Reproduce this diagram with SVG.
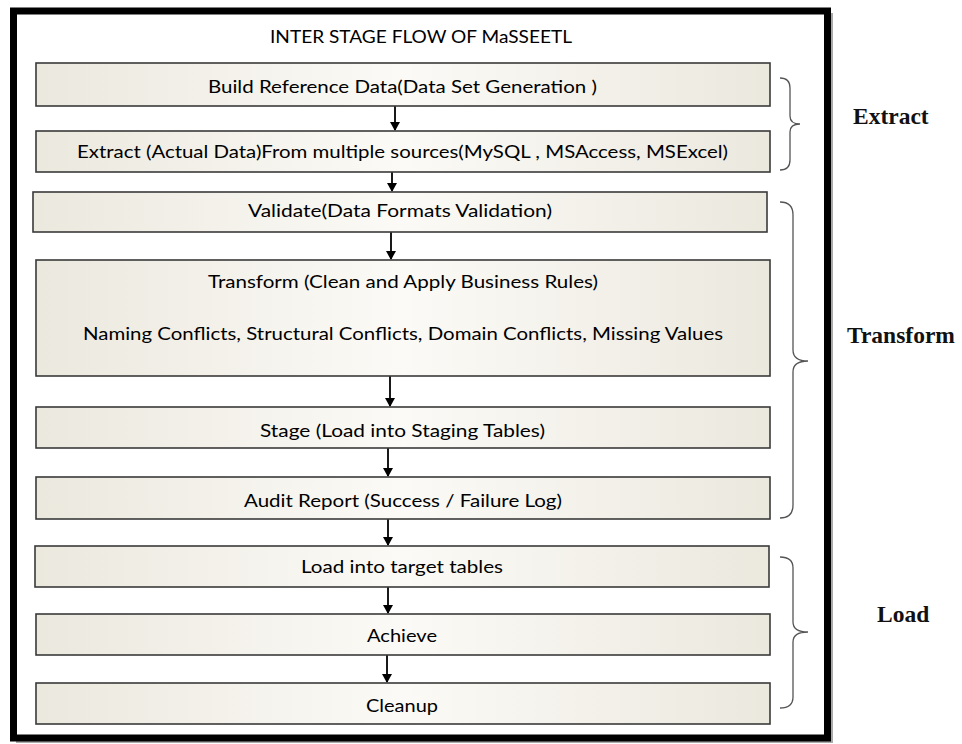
<svg xmlns="http://www.w3.org/2000/svg" width="962" height="744" viewBox="0 0 962 744">
<style>
.box{fill:url(#g);stroke:#3a3a3a;stroke-width:1.6}
.t{font-family:Lato,"Open Sans","Liberation Sans",sans-serif;font-size:18px;fill:#000;text-anchor:middle}
.lbl{font-family:"Liberation Serif","Times New Roman",serif;font-weight:bold;font-size:23.5px;fill:#111}
.arr{stroke:#000;stroke-width:1.8;fill:none;marker-end:url(#ah)}
.brace{fill:none;stroke:#555;stroke-width:1.3}
</style>
<defs>
<linearGradient id="g" x1="0" y1="0" x2="1" y2="0">
<stop offset="0" stop-color="#ebe8de"/>
<stop offset="0.5" stop-color="#fbfaf6"/>
<stop offset="1" stop-color="#ebe8de"/>
</linearGradient>
<marker id="ah" markerWidth="10" markerHeight="10" refX="8" refY="5" orient="auto" markerUnits="userSpaceOnUse">
<path d="M0,0 L9,5 L0,10 Z" fill="#000"/>
</marker>
</defs>
<rect width="962" height="744" fill="#fff"/>
<rect x="16" y="13" width="817" height="730" fill="#aaa"/>
<rect x="13.5" y="11" width="814" height="727" fill="#fff" stroke="#000" stroke-width="7"/>
<text class="t" x="421" y="43" textLength="302" lengthAdjust="spacingAndGlyphs">INTER STAGE FLOW OF MaSSEETL</text>

<g id="connectors">
<line class="arr" x1="395" y1="106" x2="395" y2="130"/>
<line class="arr" x1="392" y1="172" x2="392" y2="191"/>
<line class="arr" x1="391" y1="232" x2="391" y2="259"/>
<line class="arr" x1="390" y1="376" x2="390" y2="406"/>
<line class="arr" x1="388" y1="448" x2="388" y2="476"/>
<line class="arr" x1="388" y1="519" x2="388" y2="545"/>
<line class="arr" x1="388" y1="587" x2="388" y2="613"/>
<line class="arr" x1="387" y1="655" x2="387" y2="682"/>
</g>

<g id="n1"><rect class="box" x="36" y="63" width="734" height="43"/><text class="t" x="402.5" y="93" textLength="389" lengthAdjust="spacingAndGlyphs">Build Reference Data(Data Set Generation )</text></g>
<g id="n2"><rect class="box" x="36" y="131" width="734" height="41"/><text class="t" x="402.5" y="158" textLength="651" lengthAdjust="spacingAndGlyphs">Extract (Actual Data)From multiple sources(MySQL , MSAccess, MSExcel)</text></g>
<g id="n3"><rect class="box" x="33" y="192" width="734" height="40"/><text class="t" x="400" y="217" textLength="304" lengthAdjust="spacingAndGlyphs">Validate(Data Formats Validation)</text></g>
<g id="n4"><rect class="box" x="36" y="260" width="734" height="116"/><text class="t" x="403" y="288" textLength="390" lengthAdjust="spacingAndGlyphs">Transform (Clean and Apply Business Rules)</text><text class="t" x="403" y="340" textLength="640" lengthAdjust="spacingAndGlyphs">Naming Conflicts, Structural Conflicts, Domain Conflicts, Missing Values</text></g>
<g id="n5"><rect class="box" x="36" y="407" width="734" height="41"/><text class="t" x="402.5" y="437" textLength="285" lengthAdjust="spacingAndGlyphs">Stage (Load into Staging Tables)</text></g>
<g id="n6"><rect class="box" x="36" y="477" width="734" height="42"/><text class="t" x="403" y="507" textLength="318" lengthAdjust="spacingAndGlyphs">Audit Report (Success / Failure Log)</text></g>
<g id="n7"><rect class="box" x="35" y="546" width="734" height="41"/><text class="t" x="402" y="573" textLength="202" lengthAdjust="spacingAndGlyphs">Load into target tables</text></g>
<g id="n8"><rect class="box" x="36" y="614" width="734" height="41"/><text class="t" x="402" y="642" textLength="70" lengthAdjust="spacingAndGlyphs">Achieve</text></g>
<g id="n9"><rect class="box" x="36" y="683" width="734" height="41"/><text class="t" x="402" y="712" textLength="72" lengthAdjust="spacingAndGlyphs">Cleanup</text></g>

<g id="extract">
<path class="brace" d="M780,78 Q790,78 790,88 L790,116 Q790,124 800,124 Q790,124 790,132 L790,160 Q790,170 780,170"/>
<text class="lbl" x="853" y="124">Extract</text>
</g>
<g id="transform">
<path class="brace" d="M780,202 Q793,202 793,215 L793,350 Q793,361 808,361 Q793,361 793,372 L793,505 Q793,518 780,518"/>
<text class="lbl" x="847" y="343">Transform</text>
</g>
<g id="load">
<path class="brace" d="M780,557 Q793,557 793,568 L793,622 Q793,632 808,632 Q793,632 793,642 L793,697 Q793,708 780,708"/>
<text class="lbl" x="877" y="622">Load</text>
</g>
</svg>
